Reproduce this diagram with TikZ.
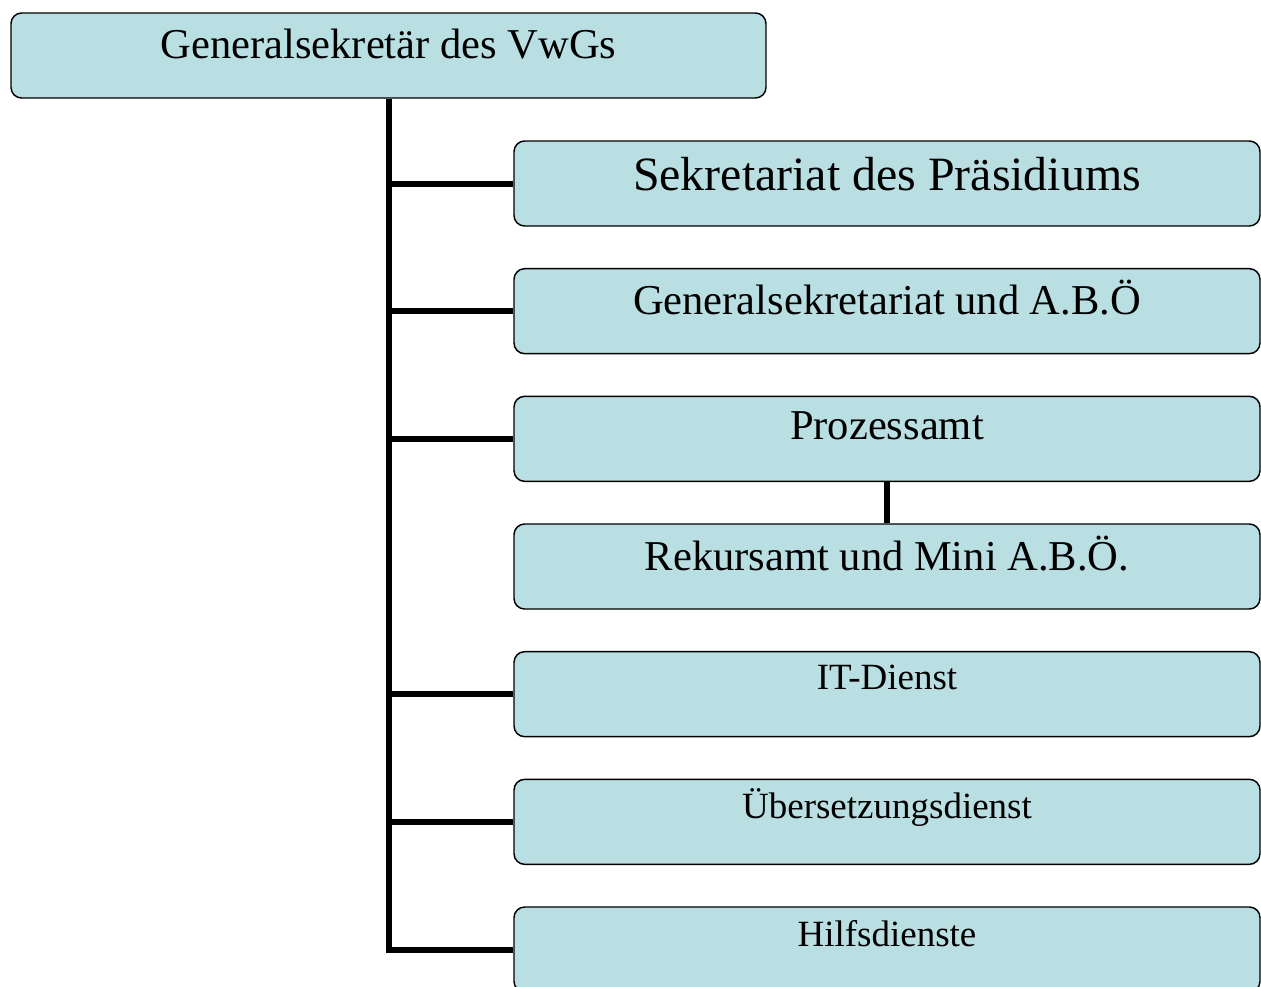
\documentclass[tikz,border=0pt]{standalone}
\usepackage{fontspec}
\setmainfont{Liberation Serif}
\usetikzlibrary{positioning}
\definecolor{boxblue}{RGB}{185,223,227}
\tikzstyle{unit} = [rectangle, rounded corners=8pt, draw=black, line width=1.1pt, fill=boxblue, inner sep=0pt, text centered, minimum height=63.75pt]
\tikzstyle{dept} = [unit, minimum width=559.5pt]
\tikzstyle{link} = [line width=4.5pt]
\begin{document}
\begin{tikzpicture}[x=0.75pt, y=-0.75pt, node distance=30.9pt]
\useasboundingbox (0,0) rectangle (1261,986);

 \node (head) [unit, minimum width=566.25pt, text height=33.75pt, text depth=30pt, font=\fontsize{31.9}{36}\selectfont] at (388.5,55.5) {Generalsekretär des VwGs};

 \node (sek) [dept, text height=36.75pt, text depth=27pt, font=\fontsize{35.9}{40}\selectfont] at (887,183.5) {Sekretariat des Präsidiums};
 \node (gen) [dept, below=of sek, text height=34.5pt, text depth=29.25pt, font=\fontsize{31.9}{36}\selectfont] {Generalsekretariat und A.B.Ö};
 \node (proz) [dept, below=of gen, text height=32.25pt, text depth=31.5pt, font=\fontsize{31.9}{36}\selectfont] {Prozessamt};
 \node (rek) [dept, below=of proz, text height=34.5pt, text depth=29.25pt, font=\fontsize{31.9}{36}\selectfont] {Rekursamt und Mini A.B.Ö.};
 \node (it) [dept, below=of rek, text height=28.5pt, text depth=35.25pt, font=\fontsize{27.75}{32}\selectfont] {IT-Dienst};
 \node (ueb) [dept, below=of it, text height=29.25pt, text depth=34.5pt, font=\fontsize{27.75}{32}\selectfont] {Übersetzungsdienst};
 \node (hilf) [dept, below=of ueb, text height=29.25pt, text depth=34.5pt, font=\fontsize{27.75}{32}\selectfont] {Hilfsdienste};

 \draw [link] (head.south) |- (hilf.west);
 \foreach \n in {sek,gen,proz,it,ueb}
   \draw [link] (head.south |- \n.west) -- (\n.west);
 \draw [link] (proz) -- (rek);
\end{tikzpicture}
\end{document}
